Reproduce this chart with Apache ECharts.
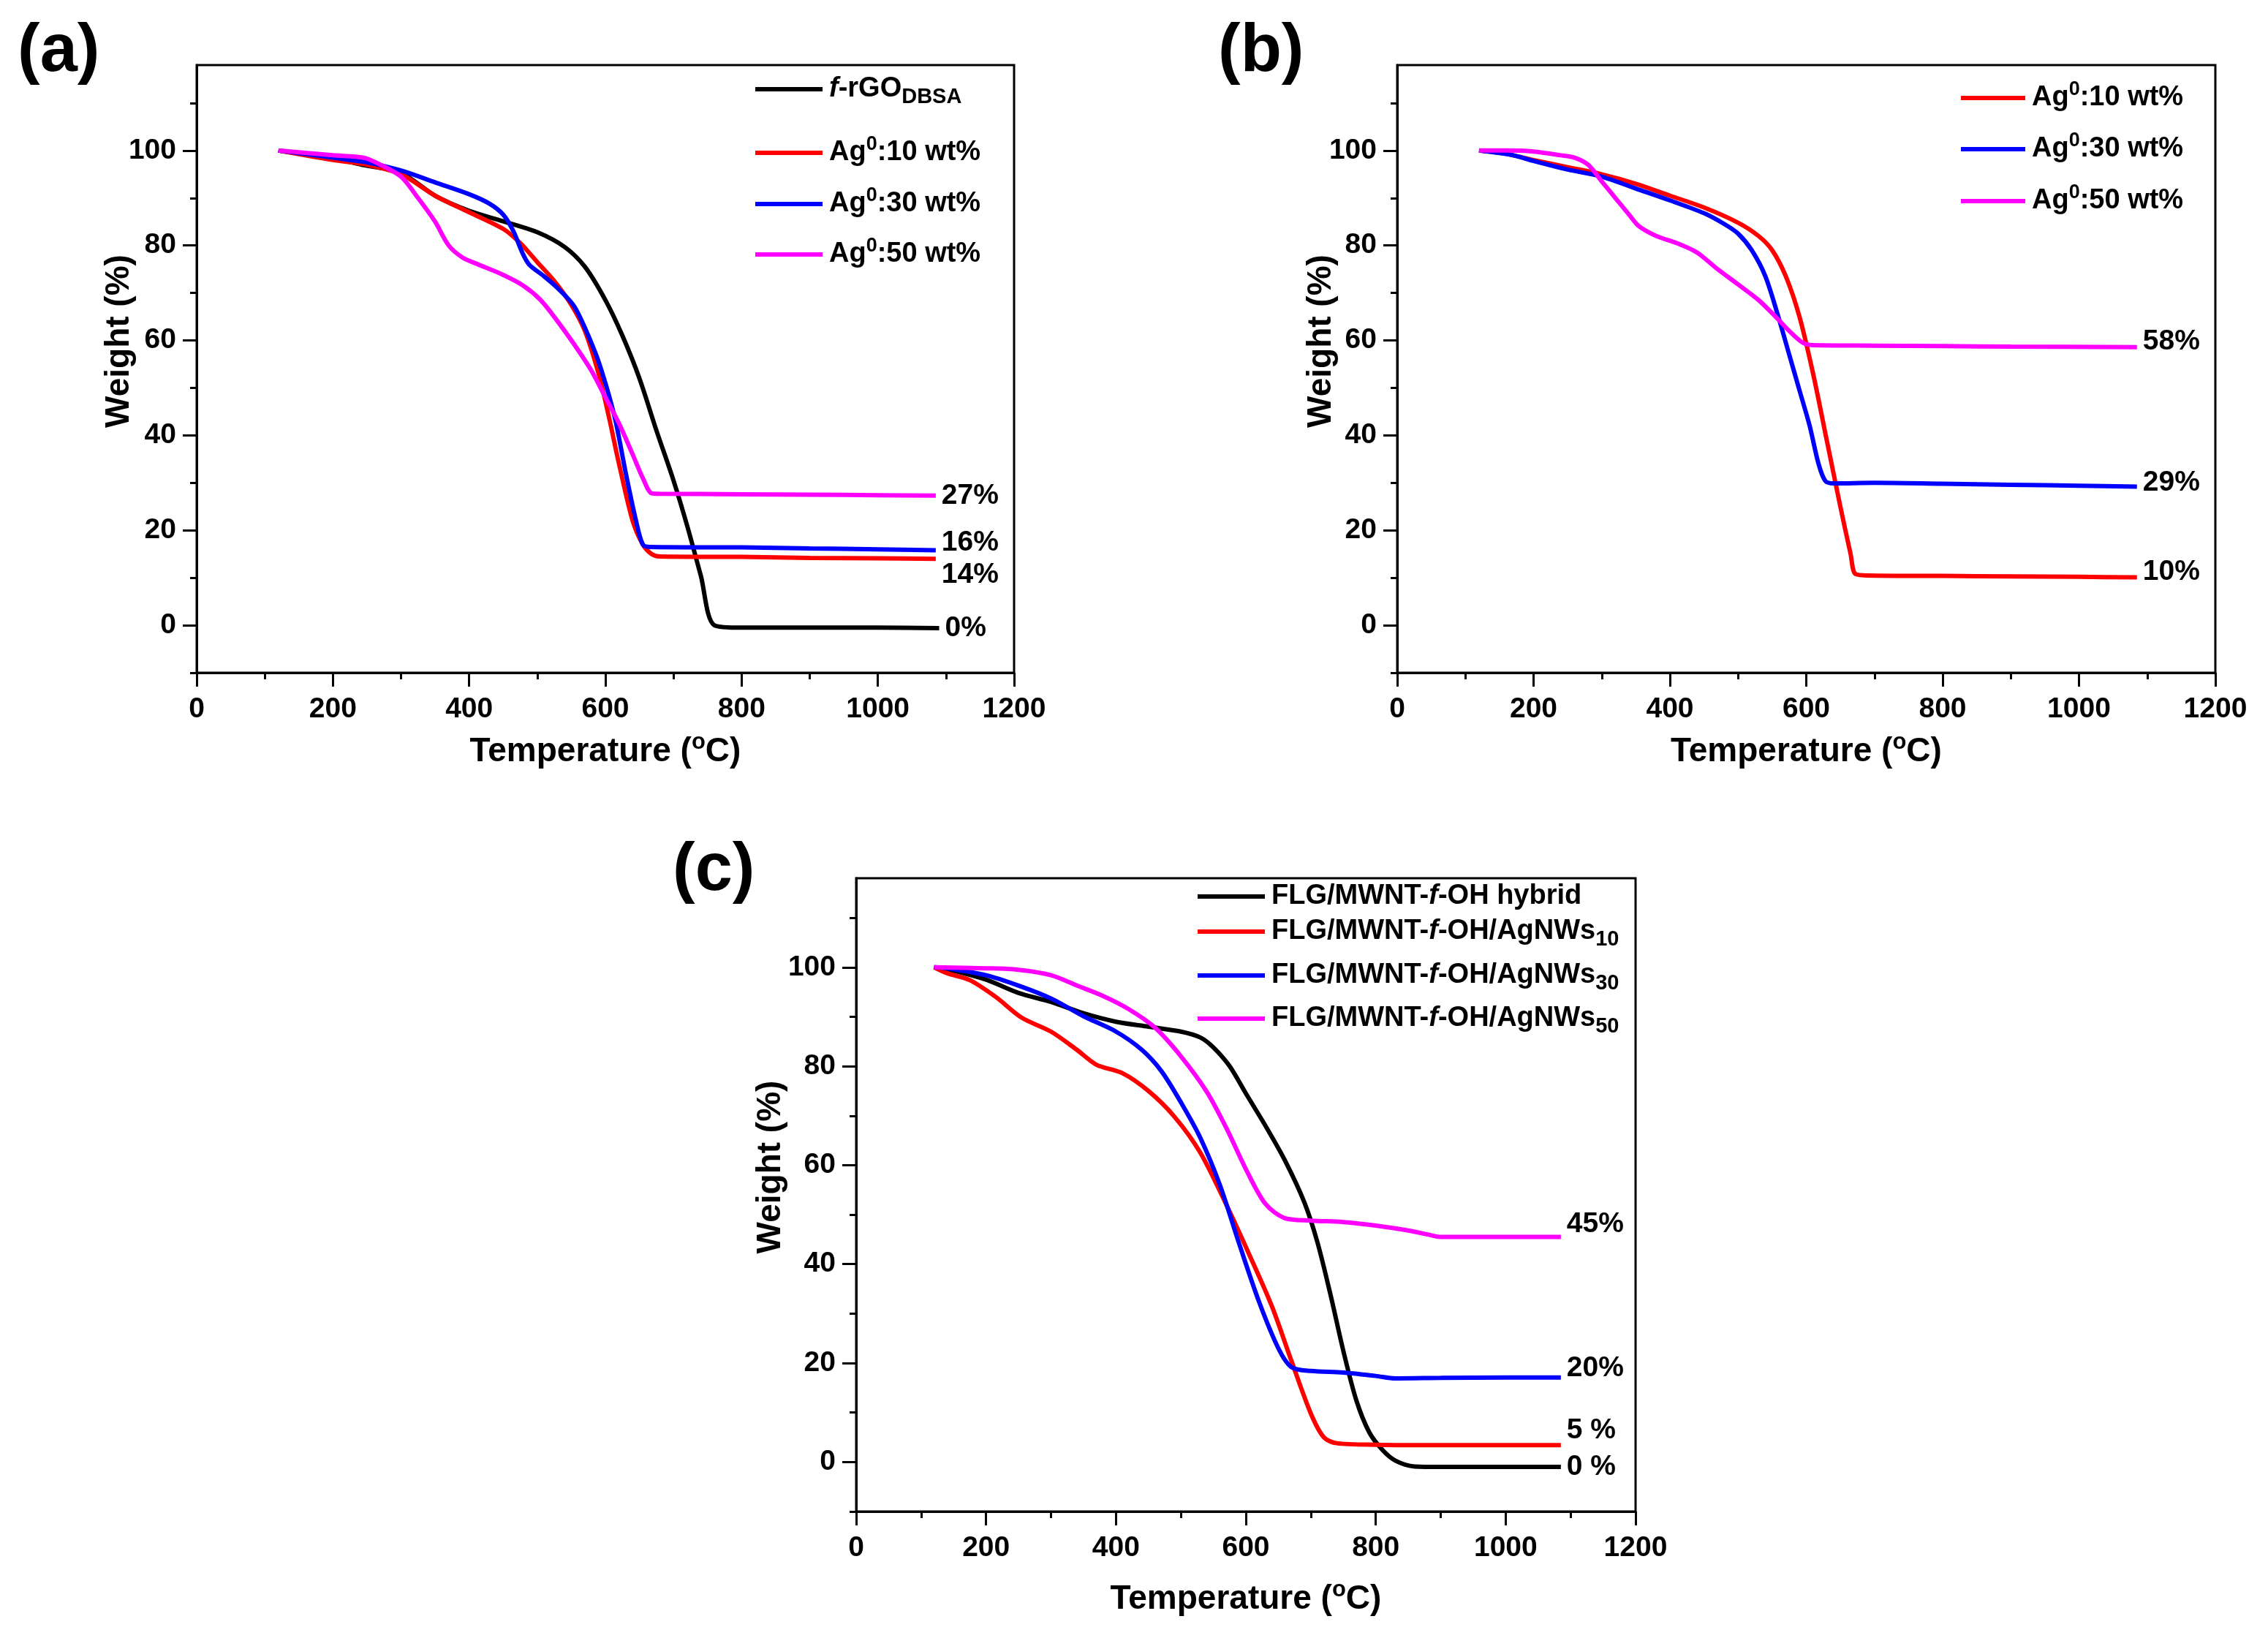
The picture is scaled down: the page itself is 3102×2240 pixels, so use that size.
<!DOCTYPE html>
<html>
<head>
<meta charset="utf-8">
<title>TGA curves</title>
<script src="https://cdn.jsdelivr.net/npm/echarts@6.0.0/dist/echarts.min.js"></script>
<style>
  html, body { margin: 0; padding: 0; background: #fff; }
  #main { width: 3102px; height: 2240px; }
</style>
</head>
<body>
<div id="main"></div>
<script type="text/javascript">
// ---- data: [temperature (°C), weight (%)] ----
var aBlack = [[120,100],[160,99.2],[200,98.3],[250,96.8],[300,95.3],[350,90.5],[400,87.3],[450,85.1],[500,82.8],[540,79.7],[570,75.5],[600,68.5],[625,61],[650,52],[675,41],[700,30.5],[720,21],[740,10.5],[760,0],[800,-0.5],[900,-0.5],[1000,-0.5],[1090,-0.6]];
var aRed   = [[120,100],[200,98],[250,97],[300,95],[350,90.5],[400,87],[450,83.5],[475,80.5],[500,76.5],[525,72.5],[550,67.5],[570,62],[590,53],[605,44],[620,34],[640,22],[655,17],[668,15],[680,14.5],[800,14.4],[900,14.2],[1000,14.1],[1085,14]];
var aBlue  = [[120,100],[200,98.5],[250,97.5],[300,95.8],[350,93.3],[400,90.8],[430,88.8],[450,86.5],[465,83],[478,78.5],[488,76],[510,73.5],[530,71],[555,67],[585,57.5],[600,51],[615,43],[630,32],[645,22],[655,17],[665,16.5],[800,16.4],[900,16.2],[1000,16],[1085,15.8]];
var aMag   = [[120,100],[200,99],[245,98.5],[270,97],[300,94.5],[325,90],[350,85],[370,80],[390,77.5],[410,76.2],[450,73.8],[480,71.5],[505,68.5],[530,64],[555,59],[580,53.5],[600,48],[620,42.5],[640,36],[655,31],[668,27.8],[680,27.7],[800,27.6],[900,27.5],[1000,27.4],[1085,27.3]];

var bRed   = [[120,100],[160,99.3],[200,98],[250,96.5],[300,95],[350,93],[400,90.5],[450,88],[500,84.8],[530,82],[550,79],[570,73.5],[590,65],[610,53],[630,39],[650,25],[665,15],[672,10.8],[690,10.5],[800,10.4],[900,10.3],[1000,10.2],[1085,10.1]];
var bBlue  = [[120,100],[170,99],[200,97.8],[250,96],[300,94.5],[350,92],[400,89.5],[450,86.8],[480,84.5],[500,82.5],[520,79],[540,73.5],[560,64.5],[575,57],[590,49.5],[605,42],[618,34],[628,30.4],[640,29.9],[700,30],[800,29.8],[900,29.6],[1000,29.4],[1085,29.2]];
var bMag   = [[120,100],[160,100],[200,99.8],[240,99],[260,98.5],[280,97],[300,93.5],[320,90],[340,86.5],[355,84],[380,82],[410,80.5],[440,78.5],[470,75],[500,71.8],[530,68.5],[555,65],[575,62],[595,59.5],[610,59],[700,58.9],[800,58.8],[900,58.7],[1085,58.6]];

var cBlack = [[120,100],[150,99.3],[200,97.5],[250,94.8],[300,93],[350,90.7],[400,89],[450,88],[500,87],[530,85.8],[550,83.8],[575,80],[600,74.5],[630,68],[660,61],[690,52.5],[710,44.5],[730,34],[750,22.5],[770,12.5],[790,6],[810,2.5],[830,0.3],[860,-0.9],[900,-1],[1000,-1],[1085,-1]];
var cRed   = [[120,100],[140,98.8],[175,97.4],[215,94],[255,89.8],[300,87],[340,83.3],[370,80.3],[410,78.6],[450,75],[490,69.8],[530,62.5],[570,52],[605,42],[640,31.5],[670,20.5],[700,9.8],[720,5],[740,3.8],[800,3.5],[900,3.4],[1000,3.4],[1085,3.4]];
var cBlue  = [[120,100],[140,99.8],[200,98.4],[250,96.3],[300,93.7],[350,90.1],[400,87],[440,83.3],[470,79],[500,72.7],[530,65.5],[560,56],[590,44],[620,32.5],[650,23],[670,19.2],[700,18.4],[750,18.1],[800,17.4],[830,16.9],[900,17],[1000,17.1],[1085,17.1]];
var cMag   = [[120,100],[200,99.8],[250,99.5],[300,98.4],[340,96.3],[380,94.2],[420,91.5],[460,87.8],[500,82],[540,74.8],[570,67.5],[600,59.2],[630,52.2],[660,49.3],[700,48.8],[750,48.5],[800,47.8],[850,46.8],[880,46],[900,45.5],[1000,45.5],[1085,45.5]];

// residue labels at the end of each curve
var endA = ['0%', '14%', '16%', '27%'];
var endB = ['10%', '29%', '58%'];
var endC = ['0 %', '5 %', '20%', '45%'];

// legend texts (rich markup)
var legA = ['{i|f}{n|-rGO}{sub|DBSA}', '{n|Ag}{sup|0}{n|:10 wt%}', '{n|Ag}{sup|0}{n|:30 wt%}', '{n|Ag}{sup|0}{n|:50 wt%}'];
var legB = ['{n|Ag}{sup|0}{n|:10 wt%}', '{n|Ag}{sup|0}{n|:30 wt%}', '{n|Ag}{sup|0}{n|:50 wt%}'];
var legC = ['{n|FLG/MWNT-}{i|f}{n|-OH hybrid}', '{n|FLG/MWNT-}{i|f}{n|-OH/AgNWs}{sub|10}',
            '{n|FLG/MWNT-}{i|f}{n|-OH/AgNWs}{sub|30}', '{n|FLG/MWNT-}{i|f}{n|-OH/AgNWs}{sub|50}'];

// ticks
var xMajor = 200;
var yLabelTicks = [0, 20, 40, 60, 80, 100];
var yMinorTicks = [-10, 10, 30, 50, 70, 90, 110];

var FONT = '"Liberation Sans", Arial, sans-serif';
var BLACK = '#000000', RED = '#ff0000', BLUE = '#0000ff', MAG = '#ff00ff';

var myChart = echarts.init(document.getElementById('main'), null, { renderer: 'canvas' });

var grids = [
  { left: 269,  top: 89,   width: 1118, height: 831 },
  { left: 1911, top: 89,   width: 1119, height: 831 },
  { left: 1171, top: 1201, width: 1066, height: 866 }
];
var nameGapX = [80, 80, 92];
var nameGapY = [83, 81, 94];

var xAxes = [], yAxes = [];
grids.forEach(function (g, i) {
  g.show = true;
  g.borderColor = BLACK;
  g.borderWidth = 3;
  g.backgroundColor = 'transparent';
  g.containLabel = false;
  xAxes.push({
    type: 'value', gridIndex: i, min: 0, max: 1200, interval: xMajor,
    name: '{n|Temperature (}{s|o}{n|C)}', nameLocation: 'middle', nameGap: nameGapX[i],
    nameMoveOverlap: false,
    nameTextStyle: {
      rich: {
        n: { fontFamily: FONT, fontSize: 46, fontWeight: 'bold', color: BLACK, lineHeight: 56 },
        s: { fontFamily: FONT, fontSize: 31, fontWeight: 'bold', color: BLACK, lineHeight: 30, verticalAlign: 'top' }
      }
    },
    axisLine: { show: true, onZero: false, lineStyle: { color: BLACK, width: 3 } },
    axisTick: { show: true, length: 19, lineStyle: { color: BLACK, width: 3 } },
    minorTick: { show: true, splitNumber: 2, length: 9, lineStyle: { color: BLACK, width: 3 } },
    splitLine: { show: false }, minorSplitLine: { show: false },
    axisLabel: {
      fontFamily: FONT, fontSize: 39, fontWeight: 'bold', color: BLACK, margin: 31,
      formatter: function (v) { return String(v); }
    }
  });
  yAxes.push({
    type: 'value', gridIndex: i, min: -10, max: 118, interval: 10,
    name: 'Weight (%)', nameLocation: 'middle', nameGap: nameGapY[i], nameRotate: 90,
    nameMoveOverlap: false,
    nameTextStyle: { fontFamily: FONT, fontSize: 46, fontWeight: 'bold', color: BLACK, padding: [0, 0, 0, 76] },
    axisLine: { show: true, onZero: false, lineStyle: { color: BLACK, width: 3 } },
    axisTick: { show: true, length: 19, customValues: yLabelTicks, lineStyle: { color: BLACK, width: 3 } },
    splitLine: { show: false },
    axisLabel: {
      fontFamily: FONT, fontSize: 39, fontWeight: 'bold', color: BLACK, margin: 28, customValues: yLabelTicks,
      formatter: function (v) { return String(v); }
    }
  });
});
// overlaid y axes that only carry the short ticks
grids.forEach(function (g, i) {
  yAxes.push({
    type: 'value', gridIndex: i, min: -10, max: 118, interval: 10, position: 'left',
    axisLine: { show: false, onZero: false },
    axisTick: { show: true, length: 9, customValues: yMinorTicks, lineStyle: { color: BLACK, width: 3 } },
    axisLabel: { show: false },
    splitLine: { show: false }
  });
});

function mkSeries(name, data, color, gi, endText, dy) {
  return {
    name: name, type: 'line', xAxisIndex: gi, yAxisIndex: gi,
    data: data, showSymbol: false, symbol: 'none', smooth: 0.3,
    color: color,
    lineStyle: { color: color, width: 6 },
    itemStyle: { color: color },
    emphasis: { disabled: true },
    endLabel: {
      show: true, formatter: endText, distance: 8, offset: [0, dy],
      fontFamily: FONT, fontSize: 39, fontWeight: 'bold', color: BLACK
    },
    z: 3
  };
}

var series = [
  mkSeries('a0', aBlack, BLACK, 0, endA[0], 0),
  mkSeries('a1', aRed,   RED,   0, endA[1], 22),
  mkSeries('a2', aBlue,  BLUE,  0, endA[2], -10),
  mkSeries('a3', aMag,   MAG,   0, endA[3], 0),
  mkSeries('b0', bRed,   RED,   1, endB[0], -7),
  mkSeries('b1', bBlue,  BLUE,  1, endB[1], -5),
  mkSeries('b2', bMag,   MAG,   1, endB[2], -7),
  mkSeries('c0', cBlack, BLACK, 2, endC[0], 0),
  mkSeries('c1', cRed,   RED,   2, endC[1], -20),
  mkSeries('c2', cBlue,  BLUE,  2, endC[2], -12),
  mkSeries('c3', cMag,   MAG,   2, endC[3], -17)
];

var legRich = {
  n:   { fontFamily: FONT, fontSize: 38, fontWeight: 'bold', color: BLACK, lineHeight: 50 },
  i:   { fontFamily: FONT, fontSize: 38, fontWeight: 'bold', fontStyle: 'italic', color: BLACK, lineHeight: 50 },
  sup: { fontFamily: FONT, fontSize: 27, fontWeight: 'bold', color: BLACK, lineHeight: 20, verticalAlign: 'top' },
  sub: { fontFamily: FONT, fontSize: 29, fontWeight: 'bold', color: BLACK, lineHeight: 20, verticalAlign: 'bottom' }
};
var legends = [];
function addLegend(names, texts, left, centers, w) {
  names.forEach(function (nm, k) {
    legends.push({
      data: [nm], left: left, top: centers[k] - 25, orient: 'vertical',
      icon: 'rect', itemWidth: w, itemHeight: 6, selectedMode: false,
      padding: 0, itemGap: 0,
      formatter: function () { return texts[k]; },
      textStyle: { rich: legRich, padding: [0, 0, 0, 4] }
    });
  });
}
addLegend(['a0', 'a1', 'a2', 'a3'], legA, 1033, [128, 209, 279, 348], 92);
addLegend(['b0', 'b1', 'b2'], legB, 2682, [134, 204, 275], 88);
addLegend(['c0', 'c1', 'c2', 'c3'], legC, 1638, [1232, 1280, 1340, 1399], 92);

var panelStyle = { fontFamily: FONT, fontSize: 92, fontWeight: 'bold', fill: BLACK };
var option = {
  animation: false,
  backgroundColor: '#ffffff',
  grid: grids,
  xAxis: xAxes,
  yAxis: yAxes,
  legend: legends,
  series: series,
  graphic: [
    { type: 'text', left: 24,  top: 26,   style: Object.assign({ text: '(a)' }, panelStyle) },
    { type: 'text', left: 1666, top: 26,  style: Object.assign({ text: '(b)' }, panelStyle) },
    { type: 'text', left: 920, top: 1146, style: Object.assign({ text: '(c)' }, panelStyle) }
  ]
};
myChart.setOption(option);
</script>
</body>
</html>
